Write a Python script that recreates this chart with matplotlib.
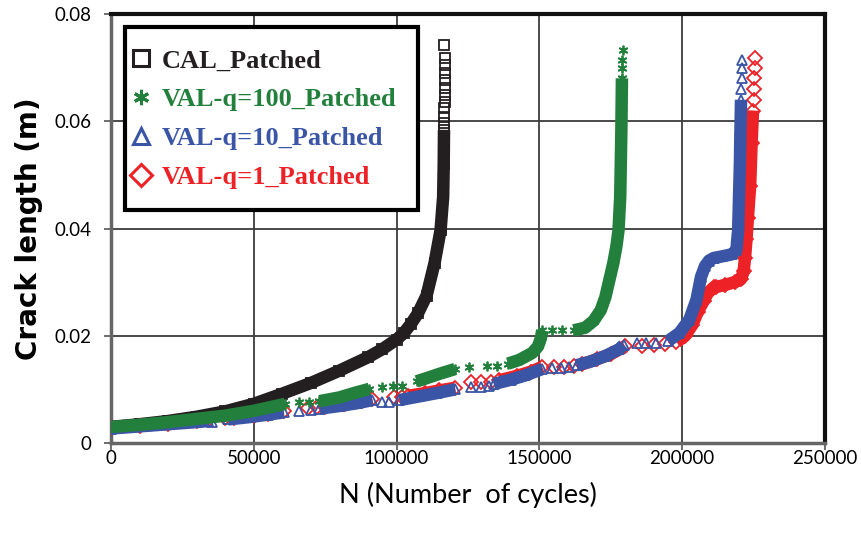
import numpy as np
import matplotlib.pyplot as plt
from matplotlib.lines import Line2D
from matplotlib.patches import Rectangle

nan = np.nan

# CAL_Patched (black) - dense band and sparse markers at the top
cal_n = [0, 10000, 20000, 30000, 40000, 50000, 60000, 70000, 80000, 90000, 95000,
         100000, 102500, 105000, 107500, 110500, 113300, 115400, 116300, 116500, 116600]
cal_a = [0.0030, 0.0035, 0.0041, 0.0049, 0.0059, 0.0073, 0.0092, 0.0112, 0.0135, 0.0160, 0.0175,
         0.0193, 0.0205, 0.0222, 0.0242, 0.0275, 0.0336, 0.0397, 0.0459, 0.0520, 0.0584]
cal_sp_n = [116700, 116700, 116750, 116800, 116800, 116850, 116900, 116900, 116900, 116950, 116500]
cal_sp_a = [0.0597, 0.0608, 0.0625, 0.0636, 0.0649, 0.0662, 0.0677, 0.0690, 0.0705, 0.0718, 0.0742]

# VAL-q=100_Patched (green)
q100_n = [0, 10000, 20000, 30000, 40000, 50000, 61000, nan,
          73000, 80000, 85000, 90500, nan,
          107000, 110000, 115000, 120500, nan,
          139000, 143000, 147500, 149500, 150500, 151000, nan,
          162000, 166000, 169000, 171500, 173100, 174500, 175900, 177000, 177700, 178300, 178700, 178900]
q100_a = [0.0030, 0.0034, 0.0039, 0.0045, 0.0051, 0.0060, 0.0073, nan,
          0.0078, 0.0085, 0.0093, 0.0101, nan,
          0.0115, 0.0120, 0.0129, 0.0138, nan,
          0.0148, 0.0155, 0.0168, 0.0180, 0.0195, 0.0210, nan,
          0.0210, 0.0215, 0.0228, 0.0248, 0.0272, 0.0304, 0.0336, 0.0368, 0.0397, 0.0459, 0.0584, 0.0680]
q100_sp_n = [66000, 69500, 95000, 98600, 102000, 125500, 131500, 135000, 154500, 158000,
             179000, 179000, 179100]
q100_sp_a = [0.0076, 0.0077, 0.0105, 0.0106, 0.0107, 0.0142, 0.0143, 0.0144, 0.0210, 0.0211,
             0.0700, 0.0715, 0.0733]

# VAL-q=10_Patched (blue)
q10_n = [0, 10000, 20000, 30000, 34000, nan,
         41000, 48000, 55000, 60500, nan,
         73000, 80000, 86000, 91500, nan,
         101000, 108000, 114000, 120500, nan,
         134000, 140000, 145000, 151000, nan,
         163000, 168000, 173000, 178000, 179500, nan,
         195000, 199000, 202500, 205000, 206600, 208000, 209400, 211000, 214000, 217500, 219000,
         219300, 219600, 219900, 220200, 220400, 220600]
q10_a = [0.0027, 0.0031, 0.0035, 0.0039, 0.0041, nan,
         0.0044, 0.0048, 0.0053, 0.0057, nan,
         0.0064, 0.0069, 0.0074, 0.0080, nan,
         0.0080, 0.0087, 0.0093, 0.0100, nan,
         0.0110, 0.0118, 0.0126, 0.0138, nan,
         0.0145, 0.0152, 0.0162, 0.0175, 0.0183, nan,
         0.0190, 0.0205, 0.0230, 0.0267, 0.0310, 0.0330, 0.0340, 0.0345, 0.0348, 0.0352, 0.0360,
         0.0380, 0.0397, 0.0459, 0.0520, 0.0584, 0.0640]
q10_sp_n = [35300, 66000, 70000, 95000, 97500, 126000, 129500, 132500, 154500, 157500, 160500,
            184300, 187500, 191000, 220700, 220800, 220900, 221000]
q10_sp_a = [0.0040, 0.0060, 0.0061, 0.0076, 0.0077, 0.0105, 0.0105, 0.0106, 0.0140, 0.0140, 0.0141,
            0.0186, 0.0186, 0.0187, 0.0660, 0.0680, 0.0700, 0.0715]

# VAL-q=1_Patched (red)
q1_n = [0, 10000, 20000, 30000, 34000, nan,
        43000, 50000, 55000, 60500, nan,
        75000, 82000, 88000, 91500, nan,
        104000, 110000, 115000, 120500, nan,
        136000, 142000, 147000, 151000, nan,
        165000, 170000, 175000, 180000, nan,
        198000, 201000, 203500, 205500, 207500, 209000, 211000, 212000, 215000, 218500, 220500,
        221500, 222000, 222500, 223000, 223800, 224300, 224800]
q1_a = [0.0028, 0.0032, 0.0036, 0.0041, 0.0043, nan,
        0.0047, 0.0051, 0.0055, 0.0059, nan,
        0.0068, 0.0073, 0.0078, 0.0082, nan,
        0.0088, 0.0093, 0.0098, 0.0103, nan,
        0.0117, 0.0125, 0.0133, 0.0142, nan,
        0.0147, 0.0156, 0.0166, 0.0180, nan,
        0.0188, 0.0200, 0.0220, 0.0245, 0.0265, 0.0280, 0.0290, 0.0291, 0.0295, 0.0300, 0.0305,
        0.0320, 0.0345, 0.0380, 0.0420, 0.0480, 0.0560, 0.0620]
q1_sp_n = [40000, 69000, 72000, 99000, 102000, 126000, 129500, 133000, 155000, 158500, 162000,
           186000, 190000, 194000, 225000, 225200, 225300, 225400, 225500]
q1_sp_a = [0.0047, 0.0066, 0.0067, 0.0086, 0.0086, 0.0113, 0.0113, 0.0114, 0.0142, 0.0142, 0.0143,
           0.0180, 0.0182, 0.0184, 0.0640, 0.0660, 0.0680, 0.0700, 0.0718]

labels = ['CAL_Patched', 'VAL-q=100_Patched', 'VAL-q=10_Patched', 'VAL-q=1_Patched']
colors = ['#231f20', '#23803c', '#3a55a5', '#ec2227']
markers = ['s', (6, 2, 0), '^', 'D']

plt.rcParams['font.family'] = ['Lato', 'DejaVu Sans']

fig = plt.figure(figsize=(8.61, 5.35), dpi=100)
ax = fig.add_axes([111 / 861, 1 - 443 / 535, 714 / 861, 429 / 535])

series = [(cal_n, cal_a, cal_sp_n, cal_sp_a),
          (q100_n, q100_a, q100_sp_n, q100_sp_a),
          (q10_n, q10_a, q10_sp_n, q10_sp_a),
          (q1_n, q1_a, q1_sp_n, q1_sp_a)]
zorders = [3, 6, 5, 4]

for (dn, da, sn, sa), c, m, z in zip(series, colors, markers, zorders):
    # dense overlapping markers drawn as a thick band
    ax.plot(dn, da, color=c, lw=9, solid_capstyle='butt', solid_joinstyle='round', zorder=z)
    ax.plot(dn, da, ls='none', marker=m, ms=7, mfc='none', mec=c, mew=1.3, zorder=z)
    ax.plot(sn, sa, ls='none', marker=m, ms=7, mfc='none', mec=c, mew=1.3, zorder=z)

ax.set_xlim(0, 250000)
ax.set_ylim(0, 0.08)
ax.set_xticks(np.arange(0, 250001, 50000))
ax.set_yticks([0, 0.02, 0.04, 0.06, 0.08])
ax.set_xticklabels(['0', '50000', '100000', '150000', '200000', '250000'])
ax.set_yticklabels(['0', '0.02', '0.04', '0.06', '0.08'])
ax.tick_params(labelsize=13.5, length=5, width=1.2, color='#555555')
ax.tick_params(axis='x', pad=0)
ax.tick_params(axis='y', pad=9)
ax.grid(True, color='#3c3c3c', lw=1.3)
ax.set_axisbelow(True)

for side in ['top', 'right']:
    ax.spines[side].set_color('#111111')
    ax.spines[side].set_linewidth(3)
for side in ['left', 'bottom']:
    ax.spines[side].set_color('#666666')
    ax.spines[side].set_linewidth(2.5)

ax.set_xlabel('N (Number  of cycles)', fontsize=19.5, labelpad=11)
ax.set_ylabel('Crack length (m)', fontsize=20, fontweight='bold', labelpad=8,
              family='DejaVu Sans')

# legend box drawn separately so its padding can follow the reference
ax.add_patch(Rectangle((14 / 714, 233 / 429), 293 / 714, 183 / 429, transform=ax.transAxes,
                       facecolor='white', edgecolor='black', lw=3, zorder=9))
handles = [Line2D([], [], ls='none', marker=m, ms=11, mfc='none', mec=c, mew=2.2)
           for m, c in zip(markers, colors)]
leg = ax.legend(handles, labels, loc='center left', bbox_to_anchor=(22 / 714, 324 / 429),
                borderaxespad=0, frameon=False, borderpad=0,
                handlelength=0.6, handletextpad=0.5, labelspacing=0.58,
                prop={'family': 'Liberation Serif', 'weight': 'bold', 'size': 19})
for t, c in zip(leg.get_texts(), colors):
    t.set_color(c)
leg.set_zorder(10)

fig.savefig('out.png', dpi=100)
